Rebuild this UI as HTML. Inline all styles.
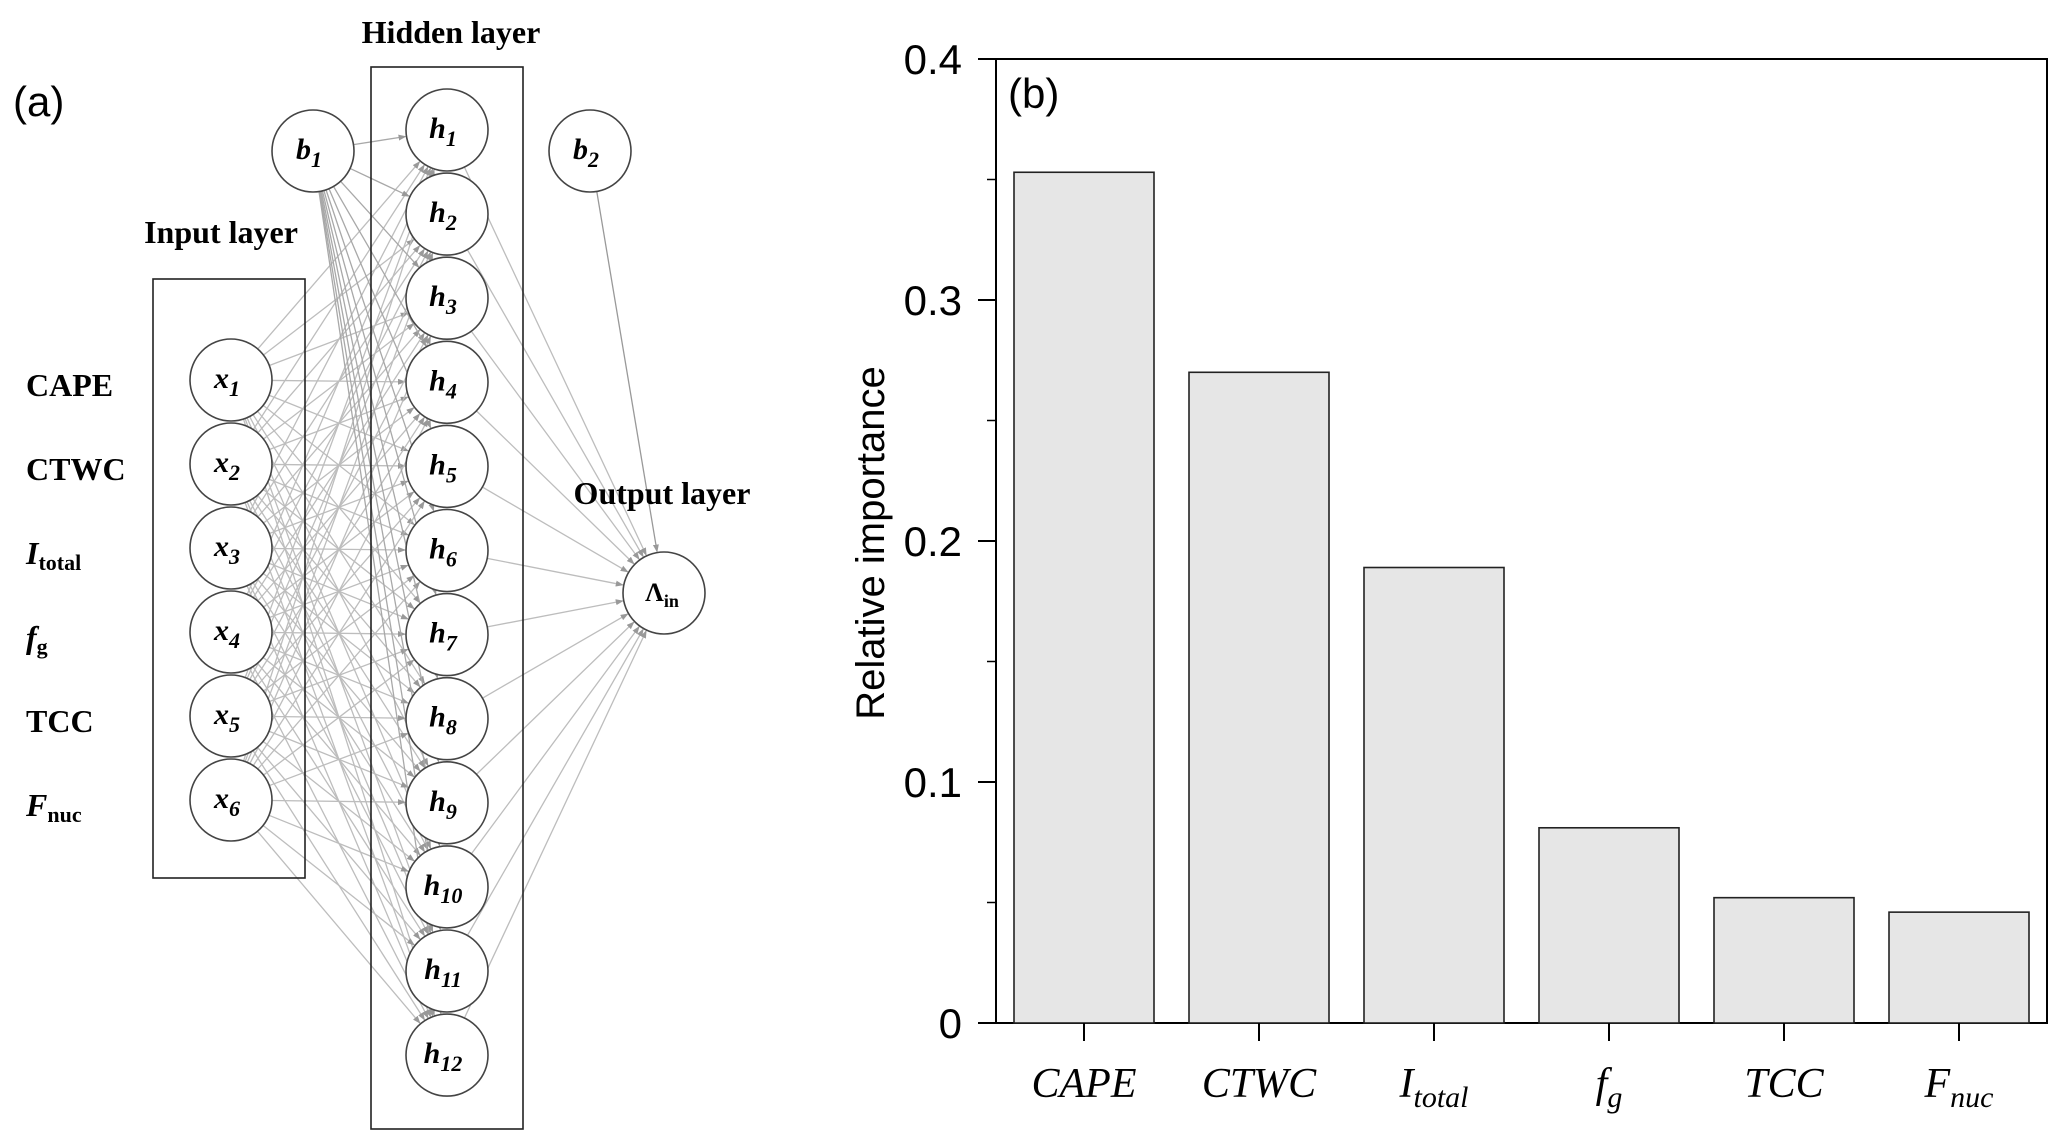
<!DOCTYPE html>
<html><head><meta charset="utf-8">
<style>
html,body{margin:0;padding:0;background:#fff;}
svg{display:block;}
</style></head>
<body>
<svg id="fig" width="2067" height="1141" viewBox="0 0 2067 1141" xmlns="http://www.w3.org/2000/svg">
<defs>
<marker id="arr" markerWidth="8" markerHeight="6" refX="7" refY="3" orient="auto" markerUnits="userSpaceOnUse">
<path d="M0,0 L8,3 L0,6 z" fill="#999"/>
</marker>
</defs>
<g id="net"></g>
<g id="chart"></g>
</svg>
<script>
// ---- bar chart data ----
const categories = ["CAPE","CTWC","I_total","f_g","TCC","F_nuc"];
const importance = [0.353, 0.270, 0.189, 0.081, 0.052, 0.046];
const yTicks = [0, 0.1, 0.2, 0.3, 0.4];
const yTickLabels = ["0","0.1","0.2","0.3","0.4"];
const yMinorTicks = [0.05, 0.15, 0.25, 0.35];

const NS = "http://www.w3.org/2000/svg";
function mk(tag, attrs, parent){
  const e = document.createElementNS(NS, tag);
  for (const k in attrs) e.setAttribute(k, attrs[k]);
  parent.appendChild(e);
  return e;
}

// ---------- chart ----------
const chart = document.getElementById('chart');
const PL=996, PR=2047, PT=59, PB=1023;
const yMax=0.4;
function yScale(v){ return PB - (v/yMax)*(PB-PT); }
const barStart=1014, barStep=175, barW=140;
function xBand(i){ return barStart + i*barStep; }

const frame = mk('rect',{x:PL,y:PT,width:PR-PL,height:PB-PT,fill:'none',stroke:'#000','stroke-width':2},chart);



importance.forEach((v,i)=>{
  const r = mk('rect',{x:xBand(i),y:yScale(v),width:barW,height:PB-yScale(v),fill:'#e6e6e6',stroke:'#222','stroke-width':1.6},chart);
  
  
  const t = mk('line',{x1:xBand(i)+barW/2,x2:xBand(i)+barW/2,y1:PB,y2:PB+18,stroke:'#000','stroke-width':2},chart);
  
  
});
yTicks.forEach((v,i)=>{
  const t = mk('line',{x1:PL-18,x2:PL,y1:yScale(v),y2:yScale(v),stroke:'#000','stroke-width':2},chart);
  
  
  const l = mk('text',{x:PL-34,y:yScale(v)+15,'text-anchor':'end','font-family':'Liberation Sans, sans-serif','font-size':42},chart);
  l.textContent = yTickLabels[i];
  
  
});
yMinorTicks.forEach(v=>{
  const t = mk('line',{x1:PL-9,x2:PL,y1:yScale(v),y2:yScale(v),stroke:'#000','stroke-width':1.5},chart);
  
  
});
const yt = mk('text',{x:0,y:0,transform:'translate(884,543) rotate(-90)','text-anchor':'middle','font-family':'Liberation Sans, sans-serif','font-size':40},chart);
yt.textContent='Relative importance';


const pb = mk('text',{x:1008,y:108,'font-family':'Liberation Sans, sans-serif','font-size':42},chart);
pb.textContent='(b)';



// x labels (main + subscript)
const xMain = ["CAPE","CTWC","I","f","TCC","F"];
const xSub  = ["","","total","g","","nuc"];
xMain.forEach((m,i)=>{
  const cx = xBand(i)+barW/2;
  const t = mk('text',{x:cx,y:1097,'text-anchor':'middle','font-family':'Liberation Serif, serif','font-style':'italic','font-size':42},chart);
  
  
  const a = mk('tspan',{},t); a.textContent=m;
  if (xSub[i]) { const s = mk('tspan',{dy:10,'font-size':30},t); s.textContent=xSub[i]; }
});

// ---------- network ----------
const net = document.getElementById('net');
const R=41;
const inX=231, inY0=380, step=84;
const hidX=447, hidY0=130, hStep=84.1;
const b1={x:313,y:151}, b2={x:590,y:151}, out={x:664,y:593};
const inputs=[...Array(6)].map((_,i)=>({x:inX,y:inY0+i*step}));
const hidden=[...Array(12)].map((_,i)=>({x:hidX,y:hidY0+i*hStep}));

const lines = mk('g',{stroke:'#bdbdbd','stroke-width':1.3,fill:'none'},net);


function conn(a,b,col){
  const dx=b.x-a.x, dy=b.y-a.y, d=Math.hypot(dx,dy);
  const ux=dx/d, uy=dy/d;
  mk('line',{x1:a.x+ux*R,y1:a.y+uy*R,x2:b.x-ux*(R+1),y2:b.y-uy*(R+1),stroke:col||'#bdbdbd','marker-end':'url(#arr)'},lines);
}
inputs.forEach(a=>hidden.forEach(h=>conn(a,h)));
hidden.forEach(h=>conn(b1,h,'#a8a8a8'));
hidden.forEach(h=>conn(h,out));
conn(b2,out,'#999');

const bi = mk('rect',{x:153,y:279,width:152,height:599,fill:'none',stroke:'#222','stroke-width':1.6},net);
 
const bh = mk('rect',{x:371,y:67,width:152,height:1062,fill:'none',stroke:'#222','stroke-width':1.6},net);
 

function node(p,main,sub,name){
  const g = mk('g',{},net);
  
  
  mk('circle',{cx:p.x,cy:p.y,r:R,fill:'#fff',stroke:'#444','stroke-width':1.6},g);
  const t = mk('text',{x:p.x-4,y:p.y+8,'text-anchor':'middle','font-family':'Liberation Serif, serif','font-style':'italic','font-weight':'bold','font-size':30},g);
  const a=mk('tspan',{},t); a.textContent=main;
  const s=mk('tspan',{dy:8,'font-size':22},t); s.textContent=sub;
}
inputs.forEach((p,i)=>node(p,'x',String(i+1),'input-node-x'+(i+1)));
hidden.forEach((p,i)=>node(p,'h',String(i+1),'hidden-node-h'+(i+1)));
node(b1,'b','1','bias-node-b1');
node(b2,'b','2','bias-node-b2');
(function(){
  const g = mk('g',{},net);
  
  
  mk('circle',{cx:out.x,cy:out.y,r:R,fill:'#fff',stroke:'#444','stroke-width':1.6},g);
  const t = mk('text',{x:out.x-2,y:out.y+8,'text-anchor':'middle','font-family':'Liberation Serif, serif','font-weight':'bold','font-size':26},g);
  const a=mk('tspan',{},t); a.textContent='Λ';
  const s=mk('tspan',{dy:6,'font-size':18},t); s.textContent='in';
})();

function label(x,y,main,sub,name,italic,anchor){
  const t = mk('text',{x:x,y:y,'text-anchor':anchor||'start','font-family':'Liberation Serif, serif','font-weight':'bold','font-size':32},net);
  if (italic) t.setAttribute('font-style','italic');
  
  
  const a=mk('tspan',{},t); a.textContent=main;
  if (sub){ const s=mk('tspan',{dy:6,'font-size':22,'font-style':'normal'},t); s.textContent=sub; }
}
label(26,396,'CAPE','','input-label-cape');
label(26,480,'CTWC','','input-label-ctwc');
label(26,564,'I','total','input-label-itotal',true);
label(26,648,'f','g','input-label-fg',true);
label(26,732,'TCC','','input-label-tcc');
label(26,816,'F','nuc','input-label-fnuc',true);
label(221,243,'Input layer','','input-layer-title',false,'middle');
label(451,43,'Hidden layer','','hidden-layer-title',false,'middle');
label(662,504,'Output layer','','output-layer-title',false,'middle');

const pa = mk('text',{x:13,y:116,'font-family':'Liberation Sans, sans-serif','font-size':42},net);
pa.textContent='(a)';


</script>
</body></html>
